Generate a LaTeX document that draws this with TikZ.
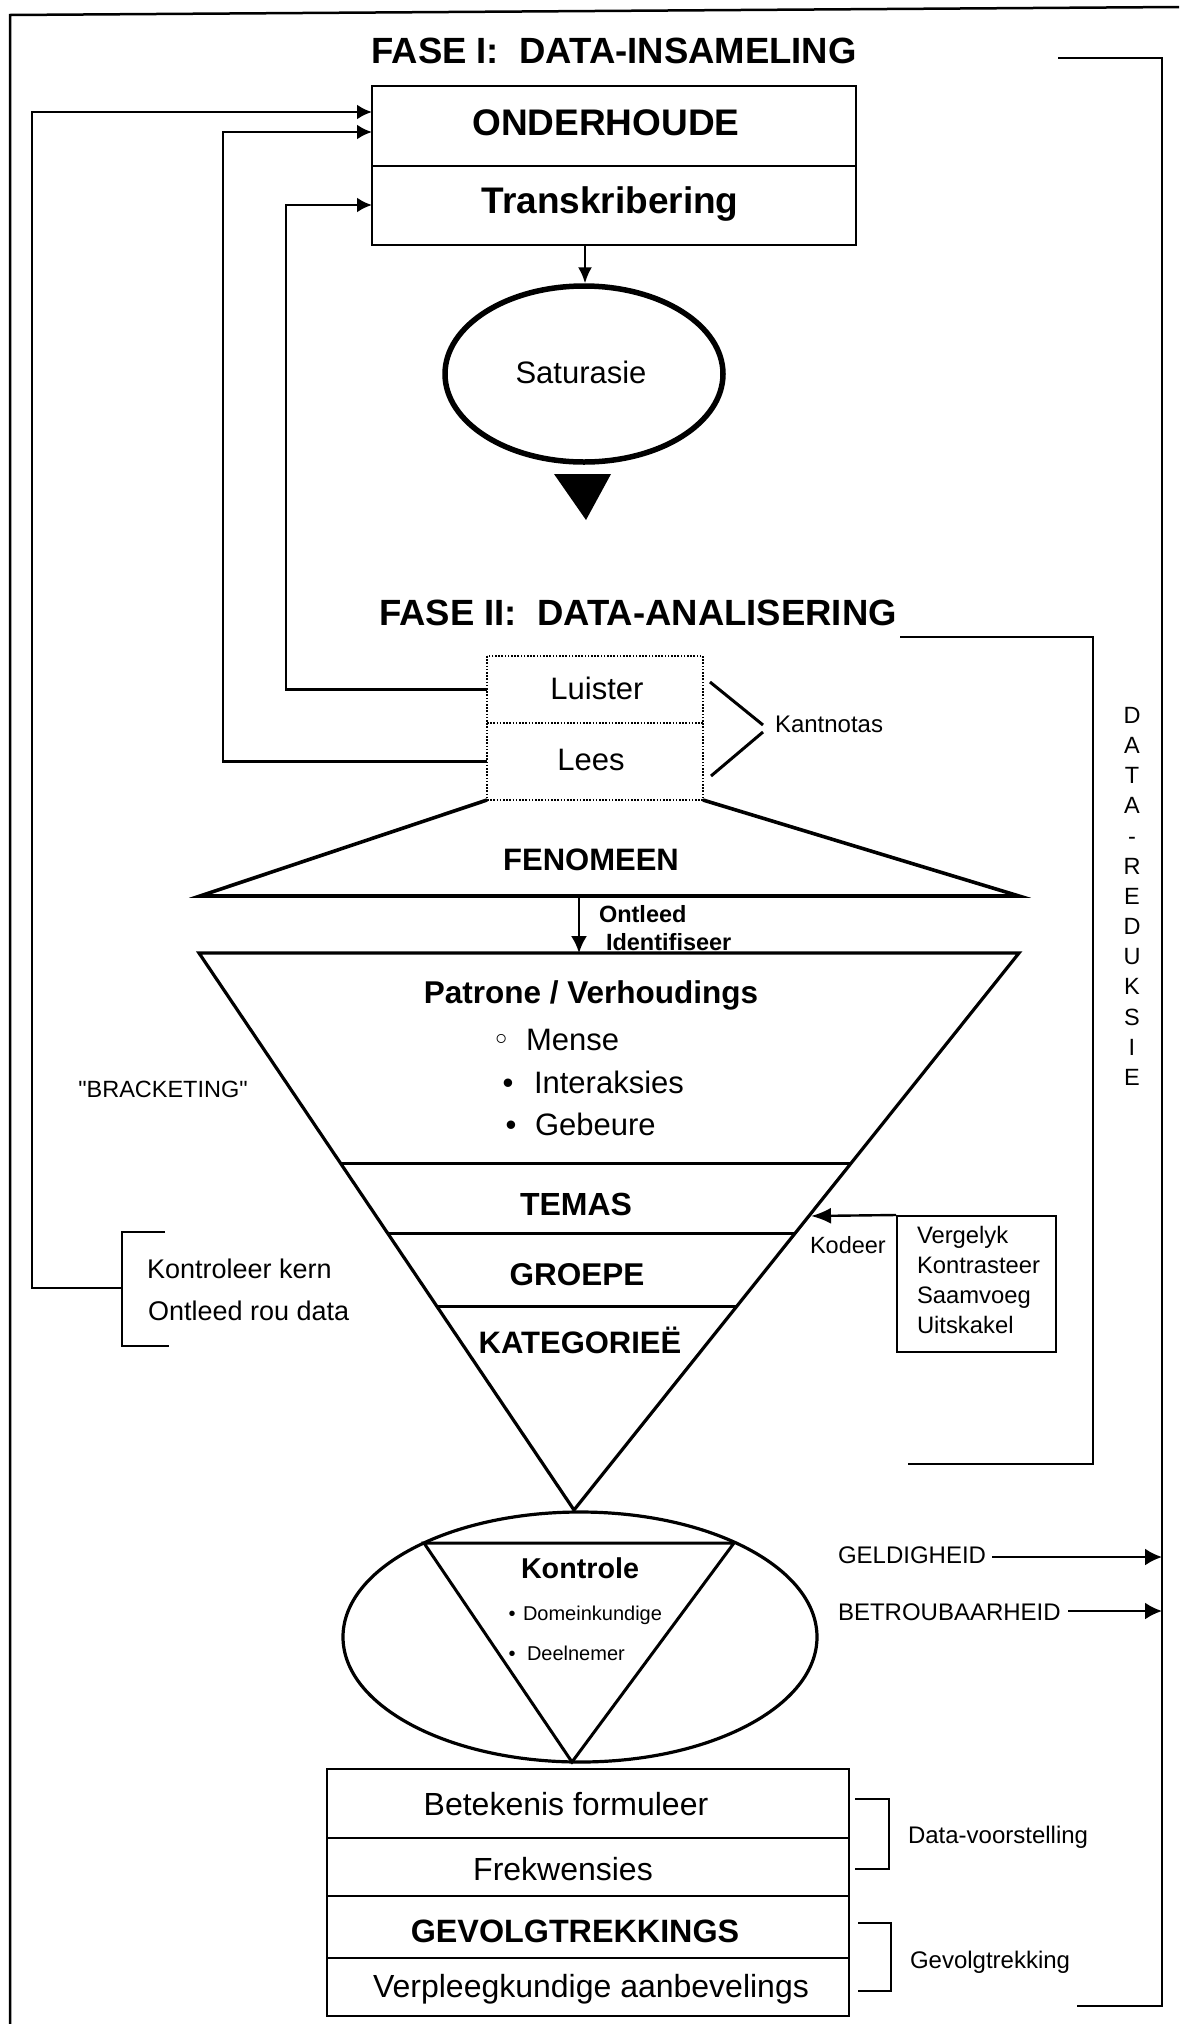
\documentclass[tikz,border=0pt]{standalone}
\usepackage{fontspec}
\setmainfont{Liberation Sans}
\newfontfamily\rawsans{Liberation Sans}
\newfontfamily\dejavu{DejaVu Sans}
\usetikzlibrary{arrows.meta,shapes.geometric}
\newcommand{\fsz}[1]{\fontsize{#1}{#1}\selectfont}
\begin{document}
\begin{tikzpicture}[x=1pt,y=-1pt,
  txt/.style={inner sep=0pt,outer sep=0pt},
  boxln/.style={draw,line width=2.8pt,inner sep=0pt,outer sep=0pt},
  cell/.style={inner sep=0pt,outer sep=0pt},
  dotln/.style={line width=1.6pt,dash pattern=on 1.6pt off 1.6pt},
  ln/.style={line width=2.8pt},
  arr/.style={line width=2.8pt,-{Latex[length=15pt,width=15pt]}},
]
\useasboundingbox (0,0) rectangle (1179,2024);
% outer frame (top and left)
\draw[line width=2.5pt] (10,2024) -- (10,15) -- (1179,7);

% ---------- Phase I ----------
\node[txt,anchor=base] (t1) at (614,63) {\fsz{36.5}\bfseries FASE I:\ \ DATA-INSAMELING};
\node[boxln,minimum width=484pt,minimum height=80pt] (ond) at (614,126) {};
\node[boxln,minimum width=484pt,minimum height=79pt] (trans) at (614,205.5) {};
\node[txt,anchor=base] (ondt) at (606,135) {\fsz{37}\bfseries ONDERHOUDE};
\node[txt,anchor=base] (transt) at (610,213) {\fsz{37}\bfseries Transkribering};

\node[draw,ellipse,line width=5.5pt,minimum width=278pt,minimum height=176pt,inner sep=0pt] (sat) at (584,374) {};
\node[txt,anchor=base] (satt) at (581,383) {\fsz{31}Saturasie};
\coordinate (tr1) at (585,245);
\draw[line width=2.2pt,-{Latex[length=16pt,width=14pt]}] (tr1) -- (tr1 |- sat.north);
\fill (554,474) -- (611,474) -- (586,520) -- cycle;

% big bracket I
\draw[ln] (1058,58) -- (1162,58) -- (1162,2006) -- (1077,2006);

% ---------- Phase II ----------
\node[txt,anchor=base] (t2) at (638,625) {\fsz{36.5}\bfseries FASE II:\ \ DATA-ANALISERING};
\draw[ln] (900,637) -- (1093,637) -- (1093,1464) -- (908,1464);

\node[cell,minimum width=216pt,minimum height=67pt] (luister) at (595,689.5) {};
\node[cell,minimum width=216pt,minimum height=77pt] (lees) at (595,761.5) {};
\draw[dotln] (luister.north west) rectangle (lees.south east);
\draw[dotln] (lees.north west) -- (lees.north east);
\node[txt,anchor=base] (luit) at (597,699) {\fsz{31}Luister};
\node[txt,anchor=base] (leest) at (591,770) {\fsz{31}Lees};
\node[txt,anchor=base west] (kant) at (775,732) {\fsz{24}Kantnotas};
\coordinate (kn1) at (710,682);
\coordinate (kn2) at (711,776);
\draw[line width=3pt] (kn1) -- (763,725);
\draw[line width=3pt] (763,732) -- (kn2);

% loops back to the top box
\coordinate (a1) at (372,112);
\coordinate (a2) at (372,132);
\coordinate (a3) at (372,205);
\coordinate (brk) at (122,1288);
\draw[arr] (brk) -- (32,1288) -- (32,112) -- (a1);
\draw[arr] (lees.west) -| (223,132) -- (a2);
\draw[arr] (luister.west) -| (286,205) -- (a3);

% trapezoid
\draw[line width=3.6pt,line join=miter] (487,800) -- (200,896) -- (1019,896) -- (703,800);
\node[txt,anchor=base] (fen) at (591,870) {\fsz{31}\bfseries FENOMEEN};
\coordinate (on1) at (579,897);
\coordinate (on2) at (579,953);
\draw[line width=2.2pt,-{Latex[length=17pt,width=16pt]}] (on1) -- (on2);
\node[txt,anchor=base west] (ontl) at (599,922) {\fsz{23.5}\bfseries Ontleed};
\node[txt,anchor=base west] (ident) at (606,950) {\fsz{23.5}\bfseries Identifiseer};

% inverted triangle
\draw[line width=3.2pt,line join=miter] (199,953) -- (1019,953) -- (574,1510) -- cycle;
\draw[line width=3pt] (340.3,1163) -- (851.2,1163);
\draw[line width=3pt] (387.4,1233) -- (795.3,1233);
\draw[line width=3pt] (436.6,1306) -- (737,1306);
\node[txt,anchor=base] (pat) at (591,1003) {\fsz{31.5}\bfseries Patrone / Verhoudings};
\node[txt,anchor=base] (b1) at (502,1050) {\fsz{31}\dejavu ◦};
\node[txt,anchor=base] (b2) at (508,1093) {\fsz{31}•};
\node[txt,anchor=base] (b3) at (511,1135) {\fsz{31}•};
\node[txt,anchor=base west] (mense) at (526,1050) {\fsz{31}Mense};
\node[txt,anchor=base west] (inter) at (534,1093) {\fsz{31}Interaksies};
\node[txt,anchor=base west] (geb) at (535,1135) {\fsz{31}Gebeure};
\node[txt,anchor=base] (temas) at (576,1215) {\fsz{32}\bfseries TEMAS};
\node[txt,anchor=base] (groepe) at (577,1285) {\fsz{31.5}\bfseries GROEPE};
\node[txt,anchor=base] (kat) at (580,1353) {\fsz{31}\bfseries KATEGORIEË};

\node[txt,anchor=base] (brack) at (163,1097) {\rawsans\fsz{23.5}"BRACKETING"};
\draw[ln] (165,1232) -- (122,1232) -- (122,1346) -- (169,1346);
\node[txt,anchor=base west] (kk) at (147,1278) {\fsz{27}Kontroleer kern};
\node[txt,anchor=base west] (ord) at (148,1320) {\fsz{27}Ontleed rou data};

% coding box
\node[draw,line width=2pt,minimum width=159pt,minimum height=136pt,inner sep=0pt] (vbox) at (976.5,1284) {};
\coordinate (kd) at (811,1216);
\draw[line width=2.4pt,-{Latex[length=20pt,width=16pt]}] (vbox.north west) -- (kd);
\node[txt,anchor=base west] (kod) at (810,1253) {\fsz{23.5}Kodeer};
\node[txt,anchor=base west] (v1) at (917,1243) {\fsz{23.8}Vergelyk};
\node[txt,anchor=base west] (v2) at (917,1273) {\fsz{23.8}Kontrasteer};
\node[txt,anchor=base west] (v3) at (917,1303) {\fsz{23.8}Saamvoeg};
\node[txt,anchor=base west] (v4) at (917,1333) {\fsz{23.8}Uitskakel};

% DATA-REDUKSIE vertical
\foreach \l [count=\i] in {D,A,T,A,-,R,E,D,U,K,S,I,E}
  \node[txt,anchor=base] (dr\i) at (1132,{723.4+30.17*(\i-1)}) {\fsz{23.5}\l};

% ---------- control ----------
\node[draw,ellipse,line width=3.2pt,minimum width=474pt,minimum height=250pt,inner sep=0pt] (ctl) at (580,1637) {};
\draw[line width=3pt,line join=miter] (424,1543) -- (734,1543) -- (572,1762) -- cycle;
\node[txt,anchor=base] (kon) at (580,1578) {\fsz{28.7}\bfseries Kontrole};
\node[txt,anchor=base] (b4) at (512,1620) {\fsz{20}•};
\node[txt,anchor=base] (b5) at (512,1660) {\fsz{20}•};
\node[txt,anchor=base west] (dom) at (523,1620) {\fsz{20}Domeinkundige};
\node[txt,anchor=base west] (dln) at (527,1660) {\fsz{20}Deelnemer};

\node[txt,anchor=base west] (geld) at (838,1563) {\fsz{24}GELDIGHEID};
\node[txt,anchor=base west] (betr) at (838,1620) {\fsz{24}BETROUBAARHEID};
\coordinate (g0) at (992,1557);
\coordinate (g1) at (1162,1557);
\coordinate (h0) at (1068,1611);
\coordinate (h1) at (1162,1611);
\draw[line width=2.4pt,-{Latex[length=17pt,width=17pt]}] (g0) -- (g1);
\draw[line width=2.4pt,-{Latex[length=17pt,width=17pt]}] (h0) -- (h1);

% ---------- bottom box ----------
\node[boxln,minimum width=522pt,minimum height=69pt] (r1) at (588,1803.5) {};
\node[boxln,minimum width=522pt,minimum height=58pt] (r2) at (588,1867) {};
\node[boxln,minimum width=522pt,minimum height=62pt] (r3) at (588,1927) {};
\node[boxln,minimum width=522pt,minimum height=58pt] (r4) at (588,1987) {};
\node[txt,anchor=base] (bf) at (566,1815) {\fsz{32}Betekenis formuleer};
\node[txt,anchor=base] (frk) at (563,1880) {\fsz{32}Frekwensies};
\node[txt,anchor=base] (gvt) at (575,1942) {\fsz{32.3}\bfseries GEVOLGTREKKINGS};
\node[txt,anchor=base] (vpa) at (591,1997) {\fsz{32}Verpleegkundige aanbevelings};

\draw[ln] (855,1799) -- (889,1799) -- (889,1869) -- (855,1869);
\draw[ln] (858,1923) -- (891,1923) -- (891,1991) -- (858,1991);
\node[txt,anchor=base west] (dv) at (908,1843) {\fsz{24}Data-voorstelling};
\node[txt,anchor=base west] (gv) at (910,1968) {\fsz{24}Gevolgtrekking};
\end{tikzpicture}
\end{document}
